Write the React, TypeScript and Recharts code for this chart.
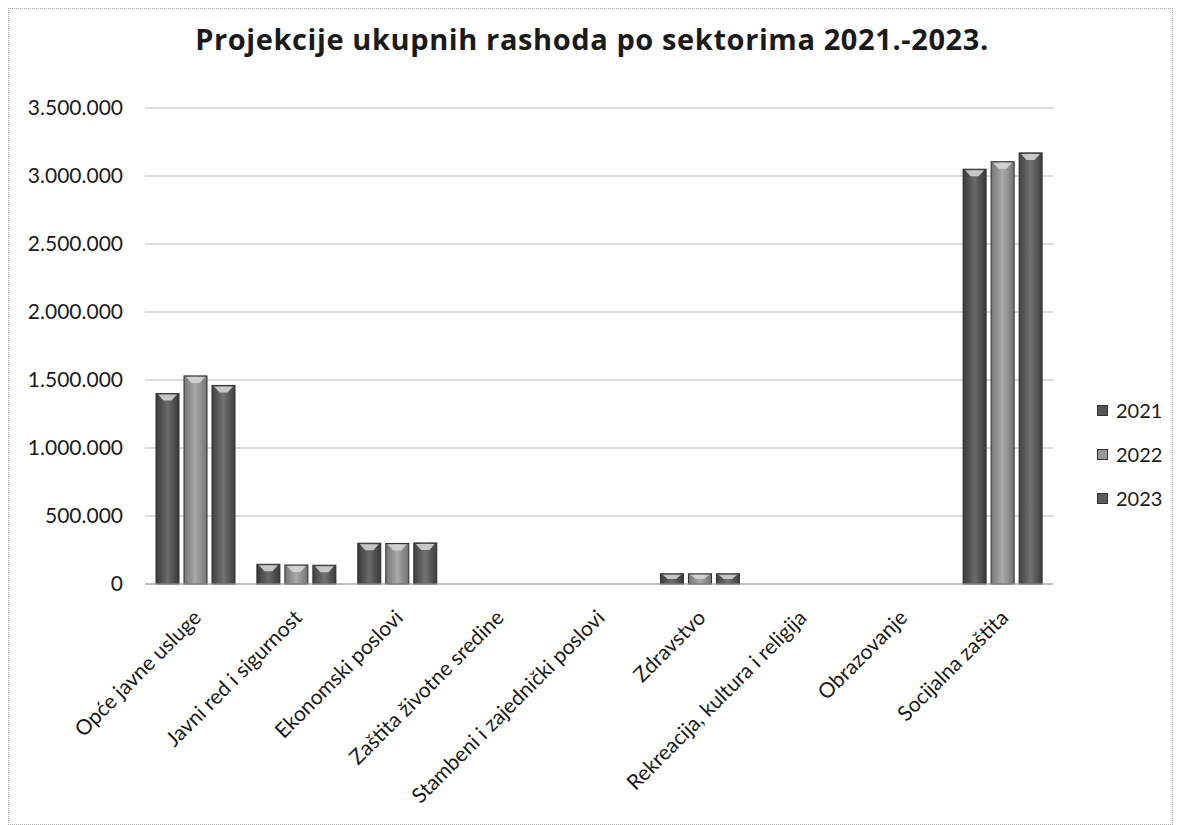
import React from 'react';
import { BarChart, Bar, XAxis, YAxis, CartesianGrid, Legend } from 'recharts';

const categories = [
  'Opće javne usluge',
  'Javni red i sigurnost',
  'Ekonomski poslovi',
  'Zaštita životne sredine',
  'Stambeni i zajednički poslovi',
  'Zdravstvo',
  'Rekreacija, kultura i religija',
  'Obrazovanje',
  'Socijalna zaštita',
];
const values2021 = [1400000, 145000, 300000, 0, 0, 75000, 0, 0, 3050000];
const values2022 = [1530000, 140000, 298000, 0, 0, 75000, 0, 0, 3105000];
const values2023 = [1460000, 138000, 302000, 0, 0, 75000, 0, 0, 3170000];
const yTicks = [0, 500000, 1000000, 1500000, 2000000, 2500000, 3000000, 3500000];

const data = categories.map((name, i) => ({
  name,
  y2021: values2021[i],
  y2022: values2022[i],
  y2023: values2023[i],
}));

const FONT = 'Lato, "Open Sans", sans-serif';
const legendColors: Record<string, string> = { '2021': '#555', '2022': '#999', '2023': '#5c5c5c' };

const fmt = (v: number) => String(v).replace(/\B(?=(\d{3})+(?!\d))/g, '.');

const AngledTick = ({ x, y, payload }: any) => (
  <g transform={`translate(${x + 7},${y + 27})`}>
    <text
      x={0}
      y={0}
      textAnchor="end"
      transform="rotate(-45)"
      fill="#1a1a1a"
      fontSize={21}
      fontFamily={FONT}
    >
      {payload.value}
    </text>
  </g>
);

// bar with a lighter bevel at the top, like the excel 3d style
const BevelBar = (props: any) => {
  const { x, y, width, height, fill } = props;
  if (!height || height <= 0) return null;
  const cap = Math.min(7, height / 2);
  return (
    <g>
      <rect x={x} y={y} width={width} height={height} fill={fill} stroke="#2e2e2e" strokeWidth={1} />
      {height > 6 && (
        <path
          d={`M${x + 2},${y + 1} L${x + width - 2},${y + 1} L${x + width / 2 + 4},${y + cap} L${x + width / 2 - 4},${y + cap} Z`}
          fill="#d8d8d8"
          opacity={0.85}
        />
      )}
    </g>
  );
};

const LegendBox = ({ payload }: any) => (
  <div style={{ fontFamily: FONT, fontSize: 20, color: '#1a1a1a' }}>
    {(payload || []).map((p: any) => (
      <div key={p.value} style={{ display: 'flex', alignItems: 'center', height: 44 }}>
        <span
          style={{
            display: 'inline-block',
            width: 9,
            height: 9,
            background: legendColors[p.value],
            border: '1px solid #333',
            marginRight: 8,
          }}
        />
        {p.value}
      </div>
    ))}
  </div>
);

export default function App() {
  return (
    <div
      style={{
        position: 'relative',
        width: 1163,
        height: 815,
        border: '1px dotted #aaa',
        background: '#fff',
      }}
    >
      <div
        style={{
          position: 'absolute',
          left: 0,
          top: 10,
          width: 1166,
          textAlign: 'center',
          fontFamily: '"Open Sans", Lato, sans-serif',
          fontWeight: 700,
          fontSize: 29,
          letterSpacing: 0.6,
          color: '#1a1a1a',
          zIndex: 2,
        }}
      >
        Projekcije ukupnih rashoda po sektorima 2021.-2023.
      </div>
      <BarChart
        width={1161}
        height={813}
        data={data}
        margin={{ top: 99, right: 37, left: 0, bottom: 0 }}
        barCategoryGap={11}
        barGap={5}
      >
        <defs>
          <linearGradient id="g2021" x1="0" y1="0" x2="1" y2="0">
            <stop offset="0%" stopColor="#3a3a3a" />
            <stop offset="50%" stopColor="#6a6a6a" />
            <stop offset="100%" stopColor="#383838" />
          </linearGradient>
          <linearGradient id="g2022" x1="0" y1="0" x2="1" y2="0">
            <stop offset="0%" stopColor="#767676" />
            <stop offset="50%" stopColor="#a9a9a9" />
            <stop offset="100%" stopColor="#727272" />
          </linearGradient>
          <linearGradient id="g2023" x1="0" y1="0" x2="1" y2="0">
            <stop offset="0%" stopColor="#424242" />
            <stop offset="50%" stopColor="#727272" />
            <stop offset="100%" stopColor="#3e3e3e" />
          </linearGradient>
        </defs>
        <CartesianGrid vertical={false} stroke="#b8b8b8" />
        <XAxis
          dataKey="name"
          interval={0}
          height={238}
          tickLine={false}
          axisLine={{ stroke: '#a8a8a8' }}
          tick={<AngledTick />}
        />
        <YAxis
          width={136}
          domain={[0, 3500000]}
          ticks={yTicks}
          tickFormatter={fmt}
          axisLine={false}
          tickLine={false}
          tickSize={0}
          tickMargin={22}
          tick={{ fill: '#1a1a1a', fontSize: 21, fontFamily: FONT }}
        />
        <Legend
          layout="vertical"
          align="right"
          verticalAlign="middle"
          width={80}
          content={<LegendBox />}
          wrapperStyle={{ left: 1088, top: 379 }}
        />
        <Bar dataKey="y2021" name="2021" fill="url(#g2021)" shape={<BevelBar />} isAnimationActive={false} />
        <Bar dataKey="y2022" name="2022" fill="url(#g2022)" shape={<BevelBar />} isAnimationActive={false} />
        <Bar dataKey="y2023" name="2023" fill="url(#g2023)" shape={<BevelBar />} isAnimationActive={false} />
      </BarChart>
    </div>
  );
}
